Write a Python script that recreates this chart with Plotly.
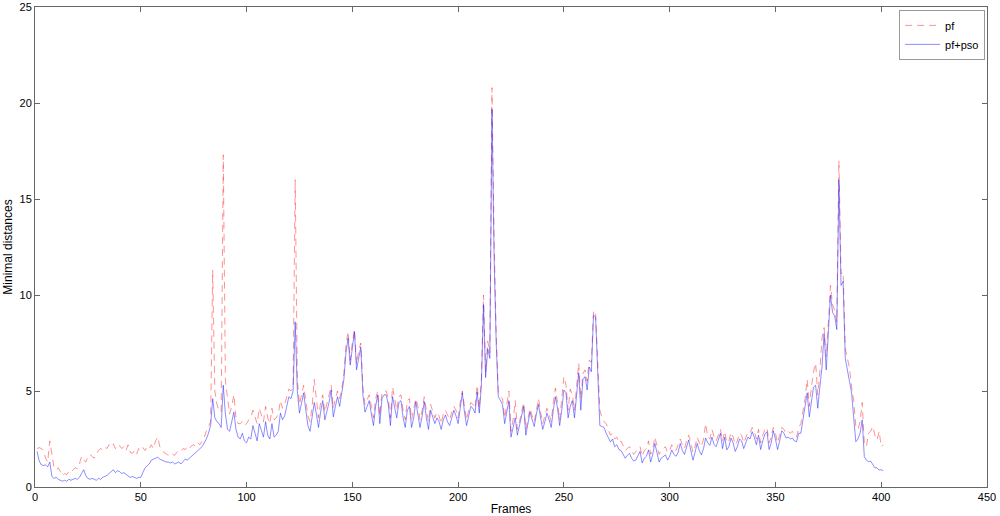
import plotly.graph_objects as go

frames = list(range(1, 402))

pf_pso = [
1.85,1.35,1.15,1.12,1.15,1.05,1.3,0.55,0.45,0.5,
0.4,0.35,0.3,0.35,0.3,0.4,0.35,0.4,0.45,0.4,
0.5,0.7,0.9,0.6,0.45,0.4,0.45,0.4,0.35,0.45,
0.4,0.5,0.55,0.6,0.7,0.8,0.9,0.75,0.85,0.8,
0.7,0.75,0.65,0.55,0.5,0.55,0.5,0.45,0.5,0.5,
0.75,1.0,1.1,1.2,1.4,1.45,1.5,1.55,1.45,1.4,
1.35,1.3,1.3,1.25,1.3,1.2,1.25,1.3,1.2,1.3,
1.45,1.4,1.5,1.6,1.7,1.75,1.85,1.95,2.1,2.3,
2.5,2.8,3.2,4.6,3.6,3.4,3.3,3.1,5.3,3.8,
3.0,2.9,3.4,3.9,3.0,2.6,2.5,2.8,2.4,2.3,
2.6,2.5,3.2,2.8,2.4,3.3,3.0,2.6,3.4,2.7,
2.5,3.3,2.6,2.7,2.9,3.85,3.5,3.7,4.2,4.7,
4.6,5.0,8.6,5.0,3.85,4.3,4.9,4.0,3.2,2.9,
3.7,4.4,3.8,3.1,3.9,4.5,3.5,3.9,4.4,5.05,
3.65,4.2,4.7,4.2,4.8,5.6,7.0,7.75,6.35,7.2,
8.1,6.1,6.8,7.3,4.8,3.9,4.2,4.5,3.8,3.2,
4.2,4.8,3.3,4.6,4.8,4.8,4.3,3.2,4.7,4.2,
3.6,4.4,4.5,3.6,3.1,4.0,4.2,3.1,3.6,4.45,
3.8,3.1,3.7,4.45,3.6,3.0,4.0,3.7,3.3,3.6,
3.4,3.0,3.5,3.75,3.4,3.2,3.6,4.0,3.7,3.3,
4.1,4.9,3.9,3.2,3.7,4.2,4.1,3.85,4.95,3.85,
5.3,9.5,5.7,7.2,6.7,19.7,12.0,7.5,4.7,4.5,
4.3,3.3,4.0,4.5,2.6,3.2,3.6,2.7,3.2,3.7,
4.2,2.7,3.3,3.9,3.5,3.15,3.8,4.3,3.6,3.0,
3.4,3.85,3.5,3.1,4.0,4.7,4.1,3.2,4.0,5.05,
4.9,3.6,4.2,4.5,3.6,4.8,5.95,4.0,5.6,5.75,
5.05,6.25,6.0,8.95,8.85,5.95,3.2,3.15,3.1,2.8,
2.6,2.35,2.5,2.1,2.2,1.95,1.9,1.7,1.5,1.65,
1.75,1.5,1.35,1.4,1.6,1.85,1.25,1.5,1.6,1.93,
1.3,1.7,2.27,1.8,1.3,1.5,1.6,1.67,1.4,1.6,
1.93,1.7,1.6,1.8,2.27,1.9,1.7,2.1,2.45,1.9,
1.4,1.8,2.27,1.9,1.67,2.0,2.55,2.3,2.17,2.6,
2.2,2.1,2.4,2.8,2.0,2.6,1.93,2.1,2.55,2.3,
1.85,2.1,2.5,2.4,2.0,2.3,2.6,2.5,2.88,2.6,
2.2,2.7,1.95,2.4,2.75,2.88,1.95,2.3,2.93,2.5,
1.95,2.4,2.93,2.8,2.55,2.6,2.5,2.55,2.4,2.36,
2.8,2.8,3.5,4.1,4.9,3.65,4.5,5.2,5.3,4.1,
5.2,6.25,8.0,6.1,8.0,10.0,9.1,8.9,8.2,16.0,
10.5,10.7,6.7,6.1,5.5,4.9,3.6,2.36,2.5,2.8,
3.5,1.58,1.4,1.32,1.35,1.15,1.0,1.0,0.88,0.9,
0.85]

pf = [
2.0,2.05,2.0,1.9,1.5,1.3,2.4,1.6,1.0,0.9,
1.0,0.8,0.6,0.7,0.65,0.8,0.75,0.9,1.0,0.95,
1.2,1.6,1.4,1.3,1.55,1.7,1.6,1.5,1.7,1.9,
2.0,1.95,2.1,2.0,2.2,2.1,2.25,2.0,2.2,2.15,
2.0,2.1,1.9,2.2,1.8,1.75,1.9,1.7,2.0,1.9,
2.05,1.9,2.1,2.0,2.2,2.0,2.4,2.6,2.1,1.9,
1.8,1.7,1.65,1.75,1.7,1.65,1.8,1.9,1.85,2.0,
1.95,2.1,2.0,2.15,2.2,2.1,2.3,2.2,2.4,2.6,
2.9,3.2,3.4,11.3,5.0,4.3,4.0,3.9,17.3,5.5,
4.6,3.8,4.2,4.8,3.6,3.3,3.3,3.4,3.2,3.3,
3.5,3.6,4.0,3.7,3.3,4.1,3.8,3.4,4.2,3.6,
3.3,4.1,3.5,3.6,3.8,4.5,4.1,4.3,4.7,5.1,
5.0,5.2,16.0,5.6,4.3,4.8,5.3,4.5,3.7,3.4,
4.2,5.6,4.4,3.6,4.4,4.8,3.9,4.3,4.8,5.3,
4.1,4.6,5.0,4.6,5.1,5.9,7.4,8.1,6.6,7.5,
8.2,6.4,7.1,7.5,5.2,4.3,4.6,4.8,4.2,3.6,
4.6,5.0,3.7,4.9,5.0,5.0,4.6,3.6,5.2,4.6,
4.0,4.7,4.8,4.0,3.5,4.5,4.6,3.5,4.0,4.6,
4.2,3.5,4.0,4.7,4.0,3.4,4.3,4.0,3.6,3.9,
3.7,3.3,3.8,4.0,3.7,3.5,3.9,4.2,4.0,3.6,
4.4,5.0,4.2,3.5,4.0,4.4,4.3,4.1,5.3,4.1,
5.6,10.0,6.0,7.6,7.0,20.8,13.0,8.0,4.9,4.7,
4.6,3.6,4.3,5.0,2.9,3.5,4.5,3.0,3.4,4.0,
4.4,3.0,3.5,4.1,3.7,3.4,4.0,4.6,3.9,3.3,
3.7,4.1,3.8,3.4,4.4,5.15,4.4,3.5,4.6,5.75,
5.3,4.0,5.1,4.8,4.0,5.3,6.45,4.6,5.9,6.1,
5.5,6.6,6.5,9.2,9.0,6.5,4.0,3.6,3.4,3.3,
3.0,2.7,2.8,2.5,2.6,2.3,2.4,2.1,1.9,2.0,
2.1,1.9,1.7,1.85,2.0,2.1,1.6,1.9,2.0,2.4,
1.7,2.0,2.6,2.2,1.7,1.9,2.0,2.1,1.8,1.9,
2.2,2.0,1.9,2.2,2.5,2.2,2.0,2.4,2.7,2.3,
1.8,2.1,2.6,2.3,2.1,2.5,3.3,2.6,2.5,3.0,
2.6,2.4,2.7,3.0,2.4,2.9,2.3,2.4,2.85,2.6,
2.2,2.4,2.8,2.7,2.3,2.6,2.85,2.8,3.1,2.9,
2.5,3.0,2.3,2.7,3.0,3.1,2.3,2.6,3.1,2.8,
2.3,2.7,3.1,3.0,2.8,2.9,2.8,2.9,2.7,2.6,
3.1,3.3,4.0,4.6,5.6,4.2,5.2,6.0,6.45,4.8,
6.0,7.75,8.3,6.8,8.5,10.5,9.5,9.2,8.6,17.0,
11.1,11.2,7.2,6.6,6.2,5.2,4.5,3.15,3.0,3.4,
4.4,2.3,2.1,2.8,2.9,3.15,2.7,2.45,2.9,2.1,
2.2]

x_ticks = [0, 50, 100, 150, 200, 250, 300, 350, 400, 450]
y_ticks = [0, 5, 10, 15, 20, 25]

fig = go.Figure()
fig.add_trace(go.Scatter(
    x=frames, y=pf, mode="lines", name="pf",
    line=dict(color="rgba(255,40,40,0.85)", width=0.6, dash="7px,5px"),
))
fig.add_trace(go.Scatter(
    x=frames, y=pf_pso, mode="lines", name="pf+pso",
    line=dict(color="rgba(30,30,255,0.85)", width=0.6),
))

axis_common = dict(
    showgrid=False, zeroline=False, showline=True, linecolor="#666",
    linewidth=1, mirror="ticks", ticks="inside", ticklen=5,
    tickcolor="#666", automargin=False,
    tickfont=dict(family="Liberation Sans, Arial", size=11, color="#000"),
)

fig.update_layout(
    width=1000, height=516,
    margin=dict(l=35, r=13, t=7, b=29, autoexpand=False),
    paper_bgcolor="white", plot_bgcolor="white",
    font=dict(family="Liberation Sans, Arial", size=11, color="#000"),
    xaxis=dict(range=[0, 450], tickvals=x_ticks, ticktext=[str(v) for v in x_ticks],
               title=dict(text="Frames", standoff=2, font=dict(size=12)), **axis_common),
    yaxis=dict(range=[0, 25], tickvals=y_ticks, ticktext=[str(v) for v in y_ticks],
               title=dict(text="Minimal distances", standoff=4, font=dict(size=12)), **axis_common),
    showlegend=True,
    legend=dict(x=0.998, y=0.994, xanchor="right", yanchor="top",
                bgcolor="white", bordercolor="#999", borderwidth=1,
                font=dict(size=11), tracegroupgap=0, itemwidth=35),
)

fig.write_html(
    "out.html",
    config={"displayModeBar": False},
    post_script="document.body.style.margin='0';document.body.style.overflow='hidden';",
)
